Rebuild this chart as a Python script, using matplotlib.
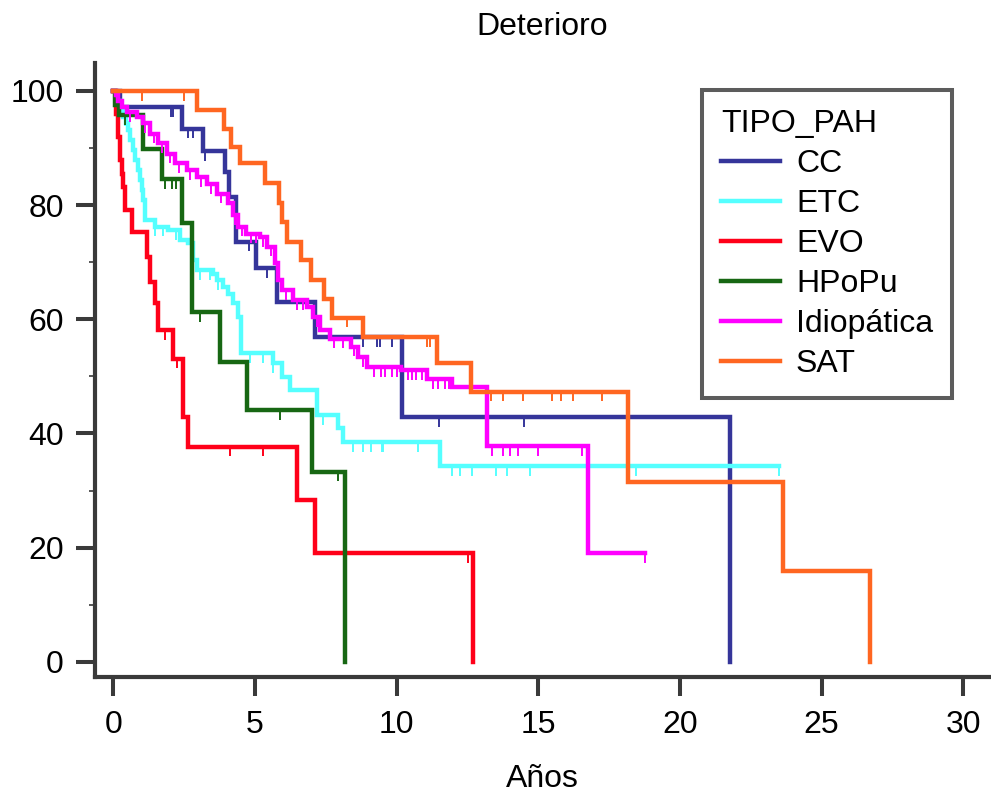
import matplotlib

matplotlib.use("Agg")
import matplotlib.pyplot as plt
import numpy as np

plt.rcParams["font.family"] = ["Liberation Sans", "DejaVu Sans"]

# step data: time of each step (years) and survival level after it
cc_t = [0, 0.24, 2.41, 3.16, 3.94, 4.09, 4.33, 5.04, 5.77, 7.12, 10.18, 21.77]
cc_s = [100, 97.2, 93.4, 89.5, 85.8, 81.4, 73.6, 68.9, 63.0, 56.9, 42.8, 0]
cc_end = 21.77
cc_cens = [2.04, 2.12, 2.65, 2.8, 3.24, 4.8, 5.41, 8.82, 9.3, 9.41, 9.85, 11.51, 14.5]

etc_t = [0, 0.12, 0.25, 0.35, 0.45, 0.53, 0.6, 0.68, 0.77, 0.86, 0.94, 1.0, 1.06, 1.12,
         1.47, 1.94, 2.35, 2.65, 2.82, 2.94, 3.53, 3.65, 3.88, 4.06, 4.24, 4.41, 4.5,
         5.62, 5.94, 6.24, 7.18, 7.94, 8.12, 11.53]
etc_s = [100, 98.3, 96.6, 95.5, 94.3, 93.1, 91.4, 89.7, 87.9, 86.2, 84.4, 82.7, 80.9, 77.4,
         76.2, 75.6, 73.9, 73.3, 70.3, 68.6, 68.0, 66.8, 65.7, 64.5, 62.8, 60.4, 54.0,
         52.3, 49.9, 47.6, 43.2, 40.9, 38.5, 34.3]
etc_end = 23.5
etc_cens = [0.4, 0.9, 1.47, 1.76, 2.2, 3.06, 3.41, 3.71, 4.0, 4.82, 5.3, 5.65, 7.41, 8.47,
            8.82, 9.1, 9.47, 9.53, 10.77, 11.94, 12.24, 12.65, 13.51, 13.91, 14.71, 18.45, 23.5]

evo_t = [0, 0.1, 0.17, 0.24, 0.3, 0.35, 0.41, 0.65, 1.18, 1.3, 1.47, 1.59, 2.12, 2.47,
         2.65, 6.47, 7.12, 12.71]
evo_s = [100, 96.0, 92.0, 87.9, 85.5, 83.2, 79.1, 75.3, 70.9, 66.5, 62.8, 58.1, 53.1, 42.9,
         37.7, 28.3, 19.0, 0]
evo_end = 12.71
evo_cens = [1.82, 2.26, 4.12, 5.3, 12.53]

hpopu_t = [0, 0.05, 0.2, 1.06, 1.71, 2.41, 2.77, 3.77, 4.71, 7.0, 8.18]
hpopu_s = [100, 97.5, 95.7, 89.8, 84.5, 76.8, 61.2, 52.5, 44.1, 33.3, 0]
hpopu_end = 8.18
hpopu_cens = [0.41, 1.82, 2.06, 2.21, 3.06, 5.88, 7.94]

idio_t = [0, 0.1, 0.18, 0.3, 0.47, 0.83, 1.06, 1.3, 1.59, 1.88, 2.18, 2.59, 2.94, 3.3,
          3.65, 4.06, 4.24, 4.4, 4.7, 5.18, 5.41, 5.71, 5.82, 5.94, 6.35, 6.83, 7.06,
          7.3, 7.65, 8.4, 8.65, 8.94, 10.15, 11.06, 11.94, 13.2, 16.77]
idio_s = [100, 99.3, 98.2, 97.2, 96.3, 95.4, 94.3, 92.5, 90.8, 89.0, 87.3, 86.1, 84.9, 83.6,
          82.0, 80.3, 78.2, 76.2, 75.0, 74.4, 72.7, 69.8, 66.8, 65.1, 63.3, 62.2, 60.4,
          58.1, 56.6, 55.2, 53.4, 51.6, 51.1, 49.5, 48.1, 44.8, 37.8]
idio_s = idio_s[:len(idio_t) - 1] + [19.0]
idio_s[-2] = 37.8
idio_end = 18.77
idio_cens = [0.6, 1.1, 1.45, 1.7, 2.0, 2.3, 2.7, 3.1, 3.45, 3.8, 4.3, 4.55, 4.85, 5.05,
             5.3, 5.55, 6.1, 6.5, 6.7, 7.0, 7.2, 7.8, 8.1, 8.5, 8.8, 9.2, 9.45, 9.6, 9.85,
             10.0, 10.4, 10.55, 10.7, 10.9, 11.3, 11.45, 11.7, 11.85, 13.36, 13.74, 14.0,
             14.3, 15.0, 16.53, 18.77]

sat_t = [0, 2.96, 3.9, 4.14, 4.47, 5.35, 5.83, 5.94, 6.12, 6.61, 6.97, 7.44, 7.71, 8.82,
         11.44, 12.61, 18.16, 23.65, 26.71]
sat_s = [100, 96.6, 93.4, 90.2, 87.3, 83.8, 80.3, 77.1, 73.6, 70.3, 66.8, 63.6, 60.3, 56.9,
         52.3, 47.3, 31.5, 15.9, 0]
sat_end = 26.71
sat_cens = [1.0, 2.5, 8.24, 11.06, 11.18, 13.33, 13.74, 14.47, 15.47, 15.8, 16.22, 17.24]

groups = [
    ("CC", cc_t, cc_s, cc_end, cc_cens, "#35359a"),
    ("ETC", etc_t, etc_s, etc_end, etc_cens, "#55ffff"),
    ("EVO", evo_t, evo_s, evo_end, evo_cens, "#ff0019"),
    ("HPoPu", hpopu_t, hpopu_s, hpopu_end, hpopu_cens, "#176713"),
    ("Idiopática", idio_t, idio_s, idio_end, idio_cens, "#ff00ff"),
    ("SAT", sat_t, sat_s, sat_end, sat_cens, "#ff6621"),
]

fig = plt.figure(figsize=(9.91, 7.96), dpi=100)
ax = fig.add_axes([0.0959, 0.149, 0.903, 0.772])

for name, t, s, end, cens, color in groups:
    t = np.asarray(t, dtype=float)
    s = np.asarray(s, dtype=float)
    tx = np.append(t, end)
    sx = np.append(s, s[-1])
    ax.step(tx, sx, where="post", color=color, lw=3.2, label=name, solid_joinstyle="miter")
    c = np.asarray(cens, dtype=float)
    lvl = s[np.searchsorted(t, c, side="right") - 1]
    ax.vlines(c, lvl - 1.7, lvl, color=color, lw=1.4)

ax.set_xlim(-0.646, 30.94)
ax.set_ylim(-2.73, 104.9)
ax.set_xticks([0, 5, 10, 15, 20, 25, 30])
ax.set_yticks([0, 20, 40, 60, 80, 100])
ax.set_yticks([10, 30, 50, 70, 90], minor=True)

for side in ("top", "right"):
    ax.spines[side].set_visible(False)
for side in ("left", "bottom"):
    ax.spines[side].set_linewidth(3)
    ax.spines[side].set_color("#3a3a3a")

ax.tick_params(axis="both", which="major", length=13.5, width=2.9, color="#3a3a3a",
               labelsize=23)
ax.tick_params(axis="x", which="major", pad=10)
ax.tick_params(axis="y", which="major", pad=9)
ax.tick_params(axis="y", which="minor", length=4.5, width=1.2, color="#3a3a3a")
ax.set_xlabel("Años", fontsize=23, labelpad=17)
ax.set_title("Deterioro", fontsize=23, pad=20)

leg = ax.legend(loc="upper left", bbox_to_anchor=(0.678, 0.9556), borderaxespad=0,
                title="TIPO_PAH", fontsize=23, title_fontsize=23, fancybox=False,
                edgecolor="#333333", handlelength=1.85, handletextpad=0.5,
                labelspacing=0.31, borderpad=0.6, alignment="left")
leg.get_frame().set_linewidth(2.9)
for line in leg.get_lines():
    line.set_linewidth(3.2)

fig.savefig("out.png", dpi=100)
